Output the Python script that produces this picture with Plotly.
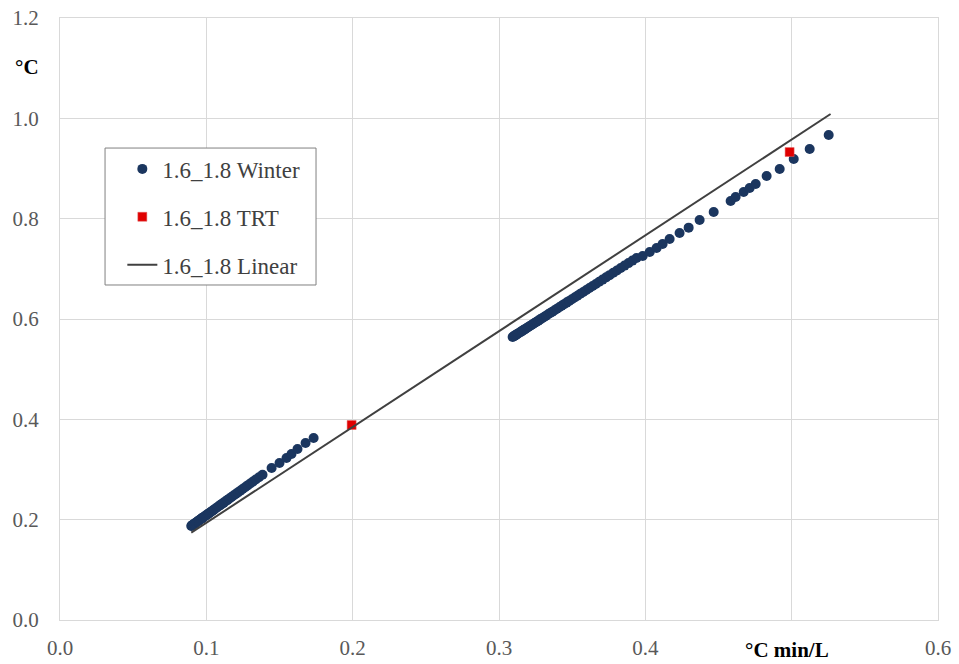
import plotly.graph_objects as go

# Winter series (°C min/L, °C)
winter_x = [
    0.0897, 0.0901, 0.0905, 0.0909, 0.0914, 0.0919, 0.0924, 0.0929, 0.0935, 0.0941,
    0.0947, 0.0953, 0.0960, 0.0967, 0.0974, 0.0981, 0.0989, 0.0997, 0.1005, 0.1014,
    0.1023, 0.1032, 0.1042, 0.1052, 0.1062, 0.1073, 0.1084, 0.1095, 0.1107, 0.1119,
    0.1132, 0.1145, 0.1158, 0.1172, 0.1186, 0.1201, 0.1216, 0.1232, 0.1248, 0.1265,
    0.1282, 0.1300, 0.1319, 0.1338, 0.1360, 0.1384, 0.1446, 0.1500, 0.1548, 0.1582,
    0.1623, 0.1678, 0.1733,
    0.3093, 0.3100, 0.3108, 0.3116, 0.3124, 0.3133, 0.3142, 0.3151, 0.3160, 0.3170,
    0.3180, 0.3190, 0.3200, 0.3211, 0.3222, 0.3233, 0.3245, 0.3257, 0.3269, 0.3282,
    0.3295, 0.3308, 0.3322, 0.3336, 0.3350, 0.3365, 0.3380, 0.3396, 0.3412, 0.3428,
    0.3445, 0.3462, 0.3480, 0.3498, 0.3517, 0.3536, 0.3556, 0.3576, 0.3597, 0.3618,
    0.3640, 0.3662, 0.3685, 0.3708, 0.3732, 0.3756, 0.3781, 0.3806, 0.3832, 0.3858,
    0.3885, 0.3912, 0.3940, 0.3982, 0.4030, 0.4077, 0.4118, 0.4166, 0.4234, 0.4296,
    0.4371, 0.4467, 0.4583, 0.4617, 0.4672, 0.4713, 0.4754, 0.4829, 0.4918, 0.5014,
    0.5123, 0.5253,
]
winter_y = [
    0.1874, 0.1882, 0.1891, 0.1899, 0.1910, 0.1920, 0.1931, 0.1941, 0.1954, 0.1966,
    0.1979, 0.1992, 0.2006, 0.2021, 0.2036, 0.2050, 0.2067, 0.2084, 0.2101, 0.2120,
    0.2139, 0.2158, 0.2179, 0.2200, 0.2221, 0.2244, 0.2267, 0.2290, 0.2315, 0.2340,
    0.2368, 0.2395, 0.2422, 0.2452, 0.2481, 0.2512, 0.2544, 0.2578, 0.2611, 0.2647,
    0.2683, 0.2720, 0.2760, 0.2800, 0.2846, 0.2897, 0.3030, 0.3129, 0.3229, 0.3309,
    0.3408, 0.3528, 0.3628,
    0.5641, 0.5654, 0.5669, 0.5684, 0.5699, 0.5715, 0.5732, 0.5749, 0.5766, 0.5784,
    0.5803, 0.5821, 0.5840, 0.5860, 0.5881, 0.5901, 0.5924, 0.5946, 0.5968, 0.5993,
    0.6017, 0.6041, 0.6067, 0.6093, 0.6119, 0.6147, 0.6175, 0.6205, 0.6234, 0.6264,
    0.6296, 0.6327, 0.6361, 0.6394, 0.6430, 0.6465, 0.6502, 0.6539, 0.6578, 0.6618,
    0.6658, 0.6699, 0.6742, 0.6785, 0.6830, 0.6874, 0.6921, 0.6967, 0.7016, 0.7064,
    0.7114, 0.7164, 0.7216, 0.7255, 0.7335, 0.7415, 0.7494, 0.7594, 0.7714, 0.7821,
    0.7973, 0.8132, 0.8352, 0.8431, 0.8531, 0.8611, 0.8690, 0.8850, 0.8990, 0.9189,
    0.9388, 0.9667,
]

# TRT series
trt_x = [0.1993, 0.4986]
trt_y = [0.3887, 0.9328]

# Linear fit line endpoints
linear_x = [0.0897, 0.5266]
linear_y = [0.1740, 1.0086]

x_ticks = [0.0, 0.1, 0.2, 0.3, 0.4, 0.5, 0.6]
# the 0.5 label is hidden behind the axis title in the reference
x_tick_labels = ["0.0", "0.1", "0.2", "0.3", "0.4", "", "0.6"]
y_ticks = [0.0, 0.2, 0.4, 0.6, 0.8, 1.0, 1.2]

FONT = "Liberation Serif, Times New Roman, serif"

fig = go.Figure()
fig.add_trace(go.Scatter(
    x=winter_x, y=winter_y, mode="markers", name="1.6_1.8 Winter",
    legendgroup="a",
    marker=dict(symbol="circle", size=10, color="#1B365F"),
))
fig.add_trace(go.Scatter(
    x=trt_x, y=trt_y, mode="markers", name="1.6_1.8 TRT",
    legendgroup="b",
    marker=dict(symbol="square", size=9, color="#E00000",
                line=dict(color="#E06060", width=0.5)),
))
fig.add_trace(go.Scatter(
    x=linear_x, y=linear_y, mode="lines", name="1.6_1.8 Linear",
    legendgroup="c",
    line=dict(color="#404040", width=2),
))

axis_common = dict(
    showgrid=True, gridcolor="#D9D9D9", gridwidth=1, automargin=False,
    zeroline=False, showline=True, linecolor="#D9D9D9", linewidth=1, mirror=True,
    ticks="", tickfont=dict(family=FONT, size=21, color="#595959"),
)

fig.update_xaxes(range=[0, 0.6], tickvals=x_ticks, ticktext=x_tick_labels,
                 ticklabelstandoff=9, **axis_common)
fig.update_yaxes(range=[0, 1.2], tickvals=y_ticks, tickformat=".1f",
                 ticklabelstandoff=16, **axis_common)

fig.update_layout(
    width=959, height=664,
    margin=dict(l=60, r=21, t=18, b=44),
    paper_bgcolor="white", plot_bgcolor="white",
    font=dict(family=FONT, size=21, color="#404040"),
    showlegend=True,
    legend=dict(
        x=0.071, y=0.785, xanchor="left", yanchor="top",
        bgcolor="rgba(0,0,0,0)", borderwidth=0,
        font=dict(family=FONT, size=23, color="#404040"),
        traceorder="grouped", tracegroupgap=15,
        itemwidth=30,
    ),
    shapes=[
        dict(type="rect", xref="paper", yref="paper",
             x0=0.0513, x1=0.2916, y0=0.5565, y1=0.784,
             line=dict(color="#808080", width=1), fillcolor="white", layer="above"),
    ],
    annotations=[
        dict(text="<b>°C</b>", x=-0.0376, y=0.9186, xref="paper", yref="paper",
             xanchor="center", yanchor="middle",
             showarrow=False, font=dict(family=FONT, size=21, color="#000000")),
        dict(text="<b>°C min/L</b>", x=0.828, y=-0.05, xref="paper", yref="paper",
             xanchor="center", yanchor="middle",
             showarrow=False, font=dict(family=FONT, size=21, color="#000000")),
    ],
)

fig.write_html(
    "out.html",
    config={"displayModeBar": False},
    post_script="document.body.style.margin='0';document.body.style.overflow='hidden';",
)
